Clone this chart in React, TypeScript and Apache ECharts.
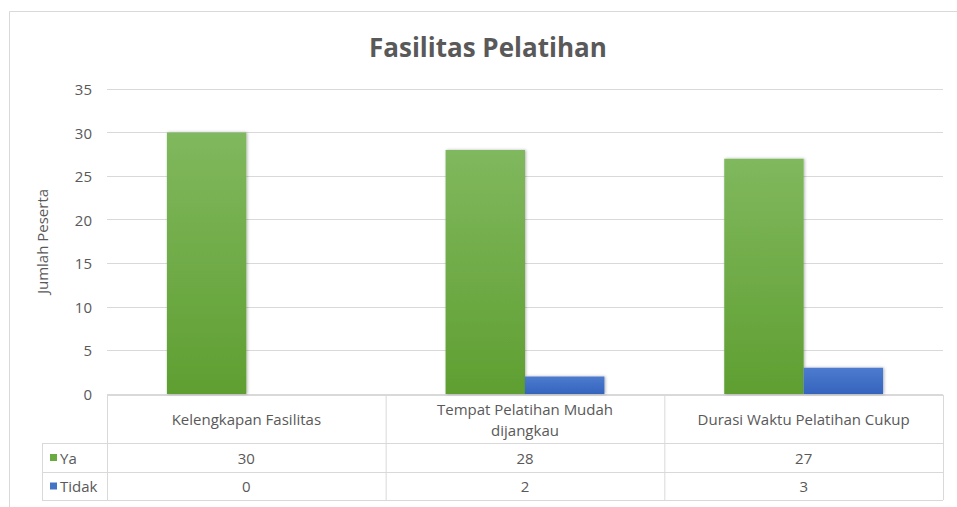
import React, { useEffect, useRef } from "react";
import * as echarts from "echarts";

const title = "Fasilitas Pelatihan";
const yAxisName = "Jumlah Peserta";
const categories = ["Kelengkapan Fasilitas", "Tempat Pelatihan Mudah\ndijangkau", "Durasi Waktu Pelatihan Cukup"];
const seriesNames = ["Ya", "Tidak"];
const yaValues = [30, 28, 27];
const tidakValues = [0, 2, 3];
const yMax = 35;
const yInterval = 5;

const W = 957;
const H = 507;
const GRID_L = 107;
const GRID_R = 943;
const GRID_T = 89;
const GRID_B = 394;
const ROW_HEAD_B = 443;
const ROW1_B = 472;
const ROW2_B = 500;
const LEG_L = 42;
const LINE = "#d9d9d9";
const TXT = "#595959";
const FONT = "'Open Sans', 'Noto Sans', sans-serif";
const FS = 15;

const green = new echarts.graphic.LinearGradient(0, 0, 0, 1, [
  { offset: 0, color: "#80b85e" },
  { offset: 1, color: "#5f9f31" },
]);
const blue = new echarts.graphic.LinearGradient(0, 0, 0, 1, [
  { offset: 0, color: "#4d7bcf" },
  { offset: 1, color: "#3564bd" },
]);
const legendColors = ["#6aab3f", "#4472c4"];

export default function App() {
  const ref = useRef<HTMLDivElement>(null);
  useEffect(() => {
    const chart = echarts.init(ref.current!, null, { renderer: "svg" });
    const values = [yaValues, tidakValues];
    const colW = (GRID_R - GRID_L) / categories.length;
    const graphics: any[] = [];
    // chart frame
    graphics.push({
      type: "rect",
      shape: { x: 9.5, y: 11.5, width: 1000, height: 600 },
      style: { fill: "none", stroke: LINE, lineWidth: 1 },
      silent: true,
    });
    const hline = (x1: number, x2: number, y: number) =>
      graphics.push({ type: "line", shape: { x1, y1: y + 0.5, x2, y2: y + 0.5 }, style: { stroke: LINE, lineWidth: 1 } });
    const vline = (x: number, y1: number, y2: number) =>
      graphics.push({ type: "line", shape: { x1: x + 0.5, y1, x2: x + 0.5, y2 }, style: { stroke: LINE, lineWidth: 1 } });
    hline(GRID_L, GRID_R, GRID_B + 1);
    hline(LEG_L, GRID_R, ROW_HEAD_B);
    hline(LEG_L, GRID_R, ROW1_B);
    hline(LEG_L, GRID_R, ROW2_B);
    vline(LEG_L, ROW_HEAD_B, ROW2_B);
    for (let i = 0; i <= categories.length; i++) {
      vline(GRID_L + i * colW, GRID_B + 1, ROW2_B);
    }
    const rows = [
      [ROW_HEAD_B, ROW1_B],
      [ROW1_B, ROW2_B],
    ];
    rows.forEach(([t, b], r) => {
      const cy = (t + b) / 2;
      graphics.push({
        type: "rect",
        shape: { x: LEG_L + 8, y: cy - 3.5, width: 7, height: 7 },
        style: { fill: legendColors[r] },
      });
      graphics.push({
        type: "text",
        x: LEG_L + 18,
        y: cy,
        style: { text: seriesNames[r], fill: TXT, font: `${FS}px ${FONT}`, verticalAlign: "middle", align: "left" },
      });
      values[r].forEach((v, i) => {
        graphics.push({
          type: "text",
          x: GRID_L + (i + 0.5) * colW,
          y: cy,
          style: { text: String(v), fill: TXT, font: `${FS}px ${FONT}`, verticalAlign: "middle", align: "center" },
        });
      });
    });

    chart.setOption({
      animation: false,
      backgroundColor: "#ffffff",
      title: {
        text: title,
        left: 364,
        top: 29,
        textStyle: { color: TXT, fontSize: 26, fontWeight: "bold", fontFamily: FONT },
      },
      grid: { left: GRID_L, right: W - GRID_R, top: GRID_T, bottom: H - GRID_B, containLabel: false },
      xAxis: {
        type: "category",
        data: categories,
        axisLine: { show: false },
        axisTick: { show: false },
        axisLabel: {
          interval: 0,
          margin: 25,
          verticalAlign: "middle",
          lineHeight: 21,
          color: TXT,
          fontSize: FS,
          fontFamily: FONT,
        },
      },
      yAxis: {
        type: "value",
        min: 0,
        max: yMax,
        interval: yInterval,
        name: yAxisName,
        nameLocation: "middle",
        nameGap: 58,
        nameTextStyle: { color: TXT, fontSize: 15, fontFamily: FONT },
        axisLine: { show: false },
        axisTick: { show: false },
        axisLabel: { color: TXT, fontSize: FS, fontFamily: FONT, margin: 15 },
        splitLine: { lineStyle: { color: LINE, width: 1 } },
      },
      series: [
        {
          name: seriesNames[0],
          type: "bar",
          data: yaValues,
          barGap: "0%",
          barCategoryGap: "43%",
          itemStyle: { color: green, shadowBlur: 3, shadowColor: "rgba(0,0,0,0.3)", shadowOffsetX: 1, shadowOffsetY: 0 },
        },
        {
          name: seriesNames[1],
          type: "bar",
          data: tidakValues,
          barGap: "0%",
          barCategoryGap: "43%",
          itemStyle: { color: blue, shadowBlur: 3, shadowColor: "rgba(0,0,0,0.3)", shadowOffsetX: 1, shadowOffsetY: 0 },
        },
      ],
      graphic: graphics,
    });
    return () => chart.dispose();
  }, []);
  return (
    <div
      ref={ref}
      style={{ position: "fixed", left: 0, top: 0, width: W, height: H }}
    />
  );
}
